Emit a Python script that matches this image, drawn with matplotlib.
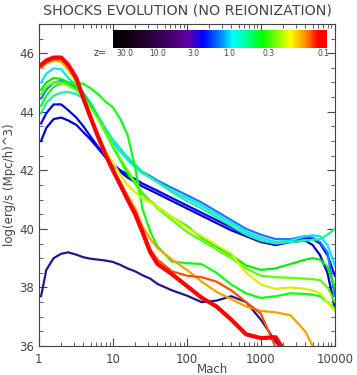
import numpy as np
import matplotlib.pyplot as plt
from matplotlib.colors import LinearSegmentedColormap

nan = np.nan

# Mach grid shared by all curves
mach = [1.07, 1.26, 1.58, 2.0, 2.5, 3.2, 4.0, 5.0, 6.3, 7.9, 10, 12.6, 15.8, 20, 25, 32,
        40, 63, 100, 158, 251, 398, 631, 1000, 1585, 2512, 3981, 5012, 6310, 7943, 10000]

lum_navy = [37.7, 38.6, 39.0, 39.15, 39.2, 39.12, 39.03, 38.98, 38.95, 38.92, 38.87, 38.77,
            38.65, 38.55, 38.42, 38.3, 38.12, 37.9, 37.72, 37.5, 37.55, 37.7, 37.5, 36.9,
            36.15, 35.5, nan, nan, nan, nan, nan]
lum_blue1 = [43.0, 43.45, 43.75, 43.8, 43.7, 43.55, 43.3, 43.05, 42.75, 42.45, 42.15, 41.95,
             41.75, 41.6, 41.45, 41.32, 41.2, 40.95, 40.7, 40.45, 40.2, 39.95, 39.75, 39.55,
             39.45, 39.55, 39.6, 39.45, 39.1, 38.5, 37.3]
lum_blue2 = [43.6, 43.95, 44.25, 44.25, 44.05, 43.8, 43.5, 43.15, 42.8, 42.5, 42.2, 42.0,
             41.85, 41.7, 41.55, 41.42, 41.3, 41.05, 40.8, 40.55, 40.3, 40.05, 39.8, 39.6,
             39.45, 39.6, 39.7, 39.65, 39.5, 39.1, 38.4]
lum_blue3 = [44.45, 44.75, 45.0, 45.05, 44.95, 44.8, 44.55, 44.2, 43.8, 43.4, 43.0, 42.7,
             42.4, 42.15, 41.95, 41.8, 41.65, 41.4, 41.15, 40.9, 40.6, 40.3, 40.0, 39.8,
             39.65, 39.65, 39.75, 39.7, 39.55, 39.2, 37.7]
lum_cyan = [45.0, 45.3, 45.48, 45.45, 45.15, 44.9, 44.65, 44.3, 43.85, 43.4, 42.95, 42.65,
            42.35, 42.1, 41.9, 41.75, 41.6, 41.3, 41.05, 40.8, 40.5, 40.2, 39.9, 39.7,
            39.55, 39.6, 39.75, 39.78, 39.75, 39.45, 38.75]
lum_aqua = [43.95, 44.3, 44.55, 44.65, 44.68, 44.6, 44.45, 44.2, 43.85, 43.45, 43.05, 42.75,
            42.45, 42.2, 41.95, 41.75, 41.6, 41.25, 40.95, 40.7, 40.4, 40.1, 39.8, 39.6,
            39.5, 39.55, 39.6, 39.62, 39.65, 39.8, 40.0]
lum_green1 = [44.75, 45.0, 45.15, 45.12, 45.0, 44.85, 44.6, 44.25, 43.8, 43.3, 42.8, 42.35,
              41.9, 41.55, 41.2, 40.95, 40.75, 40.4, 40.1, 39.7, 39.4, 39.1, 38.75, 38.6,
              38.65, 38.8, 38.95, 39.0, 38.95, 38.7, 38.0]
lum_green2 = [44.2, 44.55, 44.85, 44.97, 45.0, 45.0, 44.95, 44.8, 44.6, 44.35, 44.15, 43.75,
              43.2, 42.1, 40.7, 39.9, 39.4, 38.88, 38.83, 38.8, 38.5, 38.1, 37.8, 37.64,
              37.7, 37.8, 37.78, 37.75, 37.7, 37.5, 37.3]
lum_green3 = [44.6, 44.85, 45.0, 45.0, 44.9, 44.75, 44.5, 44.15, 43.75, 43.3, 42.85, 42.4,
              42.0, 41.6, 41.25, 40.95, 40.7, 40.3, 39.9, 39.6, 39.3, 39.0, 38.65, 38.4,
              38.35, 38.33, 38.3, 38.28, 38.25, 38.0, 37.5]
lum_yellow = [45.5, 45.65, 45.75, 45.7, 45.4, 45.0, 44.4, 43.8, 43.2, 42.7, 42.25, 41.85,
              41.5, 41.25, 41.05, 40.9, 40.75, 40.4, 40.05, 39.75, 39.45, 39.15, 38.5, 38.1,
              37.95, 38.0, 37.95, 37.9, 37.8, 37.5, 37.2]
lum_orange = [45.5, 45.65, 45.75, 45.72, 45.45, 45.05, 44.45, 43.8, 43.2, 42.6, 42.05, 41.6,
              41.15, 40.7, 40.1, 39.65, 39.35, 38.95, 38.6, 38.2, 37.85, 37.6, 37.35, 37.2,
              37.15, 37.05, 36.5, 36.0, 35.5, nan, nan]
lum_orred = [45.55, 45.7, 45.8, 45.8, 45.55, 45.1, 44.45, 43.8, 43.15, 42.55, 42.0, 41.5,
             41.0, 40.6, 40.0, 39.3, 38.95, 38.55, 38.4, 38.35, 38.2, 37.9, 37.5, 37.1,
             35.95, nan, nan, nan, nan, nan, nan]
lum_red = [45.6, 45.75, 45.85, 45.85, 45.6, 45.15, 44.45, 43.8, 43.15, 42.55, 42.0, 41.5,
           41.0, 40.5, 39.9, 39.2, 38.8, 38.45, 38.05, 37.65, 37.35, 36.9, 36.4, 36.27,
           36.3, 35.5, nan, nan, nan, nan, nan]

curves = [lum_navy, lum_blue1, lum_blue2, lum_blue3, lum_cyan, lum_aqua, lum_green1,
          lum_green2, lum_green3, lum_yellow, lum_orange, lum_orred, lum_red]
colors = ['#1a1a8c', '#0000c8', '#0000ff', '#1e78ff', '#00e8ff', '#20f0a0', '#00f000',
          '#10ff10', '#60ff00', '#d8f000', '#ffa000', '#ff5000', '#ff0000']

z_labels = ['30.0', '10.0', '3.0', '1.0', '0.3', '0.1']
z_pos = [0.056, 0.21, 0.376, 0.545, 0.732, 0.986]

fig = plt.figure(figsize=(3.57, 3.75), dpi=100)
ax = fig.add_axes([0.109, 0.0773, 0.829, 0.859])

for lum, c in zip(curves, colors):
    lw = 3.0 if c == '#ff0000' else 1.6
    ax.plot(mach, lum, color=c, lw=lw)

txt = '#454545'
ax.set_xscale('log')
ax.set_xlim(1, 10000)
ax.set_ylim(36, 47)
ax.set_yticks([36, 38, 40, 42, 44, 46])
ax.set_yticks(np.arange(36, 47.01, 0.5), minor=True)
ax.set_xticks([1, 10, 100, 1000, 10000])
ax.set_xticklabels(['1', '10', '100', '1000', '10000'])
ax.tick_params(which='both', direction='in', top=True, right=True, labelsize=8.5,
               colors=txt)
ax.tick_params(axis='x', which='major', pad=5)
ax.tick_params(which='major', length=6)
ax.tick_params(which='minor', length=3)
for s in ax.spines.values():
    s.set_color(txt)
fig.text(212 / 357, 0.006, 'Mach', ha='center', va='baseline', fontsize=8.5, color=txt)
ax.set_ylabel('log(erg/s (Mpc/h)^3)', fontsize=8.5, color=txt, labelpad=2)
fig.text(0.524, 0.972, 'SHOCKS EVOLUTION (NO REIONIZATION)', ha='center', va='center',
         fontsize=10.3, color=txt)

# colour bar
cmap = LinearSegmentedColormap.from_list('zbar', [
    (0.0, '#000000'), (0.08, '#100010'), (0.25, '#400060'), (0.35, '#6000a0'),
    (0.42, '#0000ff'), (0.5, '#0080ff'), (0.56, '#00ffff'), (0.62, '#00ffa0'),
    (0.7, '#00ff00'), (0.83, '#ffff00'), (0.9, '#ff9000'), (0.96, '#ff0000'),
    (1.0, '#ff0000')])
cax = fig.add_axes([0.3165, 0.872, 0.597, 0.048])
cax.imshow(np.linspace(0, 1, 256)[None, :], aspect='auto', cmap=cmap,
           extent=[0, 1, 0, 1])
cax.set_axis_off()
for lab, p in zip(z_labels, z_pos):
    fig.text(0.3165 + 0.597 * p, 0.858, lab, ha='center', va='center', fontsize=5.5,
             color=txt)
fig.text(0.28, 0.858, 'z=', ha='center', va='center', fontsize=7, color=txt)

fig.savefig('out.png', dpi=100)
